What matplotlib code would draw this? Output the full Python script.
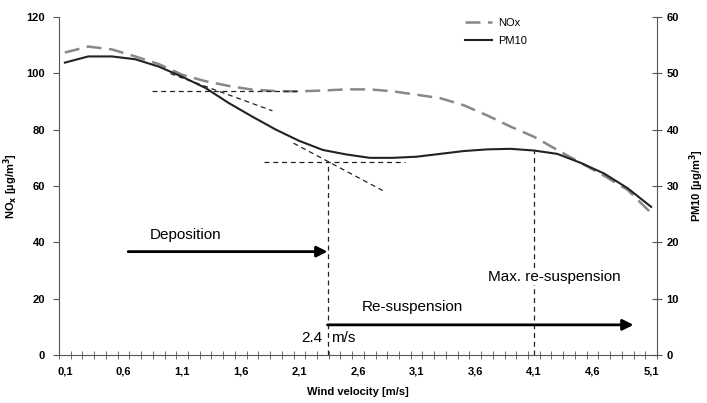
import matplotlib.pyplot as plt
import numpy as np

# wind velocity [m/s] where the curves were read
wind = [0.1, 0.3, 0.5, 0.7, 0.9, 1.1, 1.3, 1.5, 1.7, 1.9, 2.1, 2.3, 2.5,
        2.7, 2.9, 3.1, 3.3, 3.5, 3.7, 3.9, 4.1, 4.3, 4.5, 4.7, 4.9, 5.1]
nox = [107.4, 109.5, 108.5, 106.0, 103.3, 99.5, 97.2, 95.5, 94.2, 93.7,
       93.6, 93.9, 94.3, 94.3, 93.6, 92.4, 91.2, 88.7, 85.1, 81.1, 77.5,
       72.8, 68.2, 63.6, 58.6, 50.4]
pm10 = [51.9, 53.0, 53.0, 52.5, 51.2, 49.4, 47.4, 44.7, 42.3, 40.0, 38.0,
        36.4, 35.6, 35.0, 35.0, 35.2, 35.7, 36.2, 36.5, 36.6, 36.3, 35.7,
        34.1, 32.2, 29.6, 26.3]

# helper lines (left axis units)
nox_flat_x = [0.84, 2.1]
nox_flat_y = [93.8, 93.8]
nox_slope_x = [1.0, 1.87]
nox_slope_y = [99.9, 86.7]
pm_flat_x = [1.8, 3.0]
pm_flat_y = [68.6, 68.6]
pm_slope_x = [2.05, 2.81]
pm_slope_y = [75.2, 58.4]
threshold = 2.34
threshold_top = 68.8
max_resusp = 4.1
max_resusp_top = 72.8

tick_vals = [0.1, 0.6, 1.1, 1.6, 2.1, 2.6, 3.1, 3.6, 4.1, 4.6, 5.1]
tick_labels = ["0,1", "0,6", "1,1", "1,6", "2,1", "2,6", "3,1", "3,6",
               "4,1", "4,6", "5,1"]

plt.rcParams['font.family'] = ['Liberation Sans', 'DejaVu Sans']
axis_color = '#555555'

fig = plt.figure(figsize=(7.07, 4.03), dpi=100)
ax = fig.add_axes([59 / 707, 48 / 403, 598 / 707, 338 / 403])
ax2 = ax.twinx()

line_nox, = ax.plot(wind, nox, color='#888888', lw=1.8, dashes=(6, 3), label='NOx')
line_pm, = ax2.plot(wind, pm10, color='#222222', lw=1.5, label='PM10')

# tangent / construction lines
dash = dict(color='#222222', lw=0.9, dashes=(4, 3))
ax.plot(nox_flat_x, nox_flat_y, **dash)
ax.plot(nox_slope_x, nox_slope_y, **dash)
ax.plot(pm_flat_x, pm_flat_y, **dash)
ax.plot(pm_slope_x, pm_slope_y, **dash)
ax.plot([threshold, threshold], [0, threshold_top], **dash)
ax.plot([max_resusp, max_resusp], [0, max_resusp_top], **dash)

# arrows and text
arrow = dict(arrowstyle='-|>', lw=2, color='black', mutation_scale=16,
             shrinkA=0, shrinkB=0)
ax.annotate('', xy=(threshold, 36.7), xytext=(0.64, 36.7), arrowprops=arrow)
ax.annotate('', xy=(4.95, 10.7), xytext=(threshold, 10.7), arrowprops=arrow)
ax.text(1.13, 42.6, 'Deposition', fontsize=11, ha='center', va='center')
ax.text(3.06, 17.2, 'Re-suspension', fontsize=11, ha='center', va='center')
ax.text(4.27, 27.8, 'Max. re-suspension', fontsize=11, ha='center',
        va='center', bbox=dict(facecolor='white', edgecolor='none', pad=1))
ax.text(threshold - 0.04, 6.1, '2.4', fontsize=11, ha='right', va='center')
ax.text(threshold + 0.03, 6.1, 'm/s', fontsize=11, ha='left', va='center')

ax.set_xlim(0.05, 5.15)
ax.set_ylim(0, 120)
ax2.set_ylim(0, 60)
ax.set_yticks(np.arange(0, 121, 20))
ax2.set_yticks(np.arange(0, 61, 10))
ax.set_xticks(tick_vals)
ax.set_xticklabels(tick_labels)
ax.set_xticks(np.arange(0.05, 5.16, 0.1), minor=True)

ax.tick_params(axis='x', which='major', length=0, pad=8, labelsize=8)
ax.tick_params(axis='x', which='minor', length=6, direction='inout',
               color=axis_color)
ax.tick_params(axis='y', length=4, pad=6, color=axis_color, labelsize=8)
ax2.tick_params(axis='y', length=7, direction='inout', color=axis_color,
                labelsize=8)
for lbl in ax.get_xticklabels() + ax.get_yticklabels() + ax2.get_yticklabels():
    lbl.set_fontweight('bold')

for a in (ax, ax2):
    a.spines['top'].set_visible(False)
    for s in ('left', 'right', 'bottom'):
        a.spines[s].set_color(axis_color)
ax.spines['right'].set_visible(False)
ax2.spines['left'].set_visible(False)
ax2.spines['bottom'].set_visible(False)

ax.set_xlabel('Wind velocity [m/s]', fontsize=8, fontweight='bold', labelpad=8)
ax.set_ylabel(r'NO$_\mathbf{x}$ [µg/m$^\mathbf{3}$]', fontsize=8,
              fontweight='bold')
ax.yaxis.set_label_coords(-0.066, 0.5)
ax2.set_ylabel(r'PM10 [µg/m$^\mathbf{3}$]', fontsize=8, fontweight='bold',
               rotation=90)
ax2.yaxis.set_label_coords(1.051, 0.5)

fig.legend(handles=[line_nox, line_pm], loc='upper left',
           bbox_to_anchor=(455 / 707, 1 - 8 / 403), frameon=False,
           fontsize=8, handlelength=2.4, handletextpad=0.6, labelspacing=0.7)

fig.savefig('out.png', dpi=100)
